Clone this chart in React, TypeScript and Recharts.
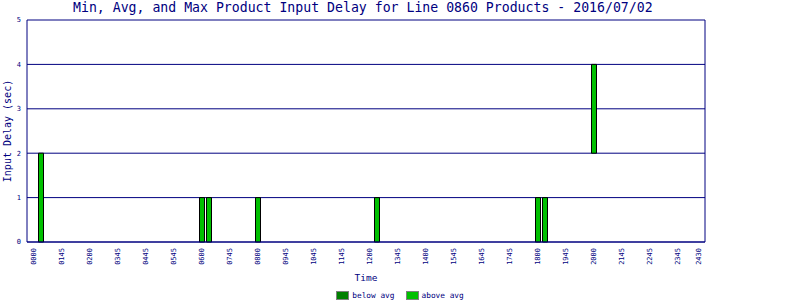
import { BarChart, Bar, XAxis, YAxis, CartesianGrid, Legend } from 'recharts';

// 96 fifteen-minute slots across the day
const slotCount = 96;

// tick labels and the slot they sit on
const tickSlots = [0, 4, 8, 12, 16, 20, 24, 28, 32, 36, 40, 44, 48, 52, 56, 60, 64, 68, 72, 76, 80, 84, 88, 92, 95];
const tickLabels = [
  '0000', '0145', '0200', '0345', '0445', '0545', '0600', '0745', '0800', '0945', '1045', '1145', '1200',
  '1345', '1400', '1545', '1645', '1745', '1800', '1945', '2000', '2145', '2245', '2345', '2430',
];

// slots with product delays (sec)
const barSlots = [1, 24, 25, 32, 49, 72, 73, 80];
const minDelay = [0, 0, 0, 0, 0, 0, 0, 2];
const avgDelay = [0, 0, 0, 0, 0, 0, 0, 2];
const maxDelay = [2, 1, 1, 1, 1, 1, 1, 4];

const yTicks = [0, 1, 2, 3, 4, 5];

const NAVY = '#000080';
const DARK_GREEN = '#008000';
const LIGHT_GREEN = '#00c000';
const FONT = '"DejaVu Sans Mono", monospace';

const labelFor = new Map(tickSlots.map((s, i) => [s, tickLabels[i]]));

const data = Array.from({ length: slotCount }, (_, slot) => {
  const i = barSlots.indexOf(slot);
  if (i < 0) return { slot, base: null, below: null, above: null };
  return {
    slot,
    base: minDelay[i],
    below: avgDelay[i] - minDelay[i],
    above: maxDelay[i] - avgDelay[i],
  };
});

const XTick = ({ x, y, payload }: any) => {
  const text = labelFor.get(payload.value);
  if (!text) return null;
  const ty = y + 6;
  return (
    <text
      x={x}
      y={ty}
      transform={`rotate(-90 ${x} ${ty})`}
      textAnchor="end"
      dominantBaseline="central"
      fontSize={7}
      fontFamily={FONT}
      fill={NAVY}
    >
      {text}
    </text>
  );
};

const legendItems = [
  { name: 'below avg', color: DARK_GREEN },
  { name: 'above avg', color: LIGHT_GREEN },
];

const LegendContent = () => (
  <div style={{ display: 'flex', justifyContent: 'center', height: 14, paddingTop: 5, boxSizing: 'border-box', paddingLeft: 11 }}>
    {legendItems.map((item) => (
      <div key={item.name} style={{ display: 'flex', alignItems: 'center', marginRight: 11 }}>
        <div style={{ width: 11, height: 7, background: item.color, border: '1px solid #808080', marginRight: 3 }} />
        <span style={{ fontFamily: FONT, fontSize: 7.8, color: NAVY, lineHeight: '9px' }}>{item.name}</span>
      </div>
    ))}
  </div>
);

export default function App() {
  return (
    <div style={{ position: 'absolute', left: 0, top: 0, width: 800, height: 300, background: '#fff' }}>
      <div
        style={{
          position: 'absolute',
          left: 73,
          top: 0,
          fontFamily: FONT,
          fontSize: 13.2,
          lineHeight: '16px',
          color: NAVY,
          whiteSpace: 'nowrap',
          zIndex: 1,
        }}
      >
        Min, Avg, and Max Product Input Delay for Line 0860 Products - 2016/07/02
      </div>
      <BarChart width={800} height={300} data={data} margin={{ top: 20, right: 94, bottom: 0, left: 0 }}>
        <CartesianGrid yAxisId="left" vertical={false} stroke={NAVY} strokeOpacity={1} />
        <XAxis
          dataKey="slot"
          type="category"
          interval={0}
          height={44}
          padding={{ left: 3.5, right: 2.5 }}
          tickLine={false}
          tickSize={0}
          tickMargin={0}
          tick={<XTick />}
          axisLine={{ stroke: NAVY }}
          label={({ viewBox }: any) => (
            <text
              x={viewBox.x + viewBox.width / 2}
              y={277}
              textAnchor="middle"
              dominantBaseline="central"
              fontSize={9.5}
              fontFamily={FONT}
              fill={NAVY}
            >
              Time
            </text>
          )}
        />
        <YAxis
          yAxisId="left"
          width={27}
          domain={[0, 5]}
          ticks={yTicks}
          tickLine={false}
          tickSize={0}
          tickMargin={6}
          axisLine={{ stroke: NAVY }}
          tick={{ fontSize: 7, fontFamily: FONT, fill: NAVY }}
          label={({ viewBox }: any) => (
            <text
              x={7.5}
              y={viewBox.y + viewBox.height / 2}
              transform={`rotate(-90 7.5 ${viewBox.y + viewBox.height / 2})`}
              textAnchor="middle"
              dominantBaseline="central"
              fontSize={10}
              fontFamily={FONT}
              fill={NAVY}
            >
              Input Delay (sec)
            </text>
          )}
        />
        <YAxis
          yAxisId="right"
          orientation="right"
          width={1}
          domain={[0, 5]}
          ticks={yTicks}
          tick={false}
          tickLine={false}
          axisLine={{ stroke: NAVY, strokeWidth: 1 }}
        />
        <Legend
          verticalAlign="bottom"
          height={14}
          wrapperStyle={{ left: 0, width: 800 }}
          content={<LegendContent />}
        />
        <Bar yAxisId="left" dataKey="base" stackId="d" fill="none" stroke="none" barSize={5} legendType="none" isAnimationActive={false} />
        <Bar yAxisId="left" dataKey="below" name="below avg" stackId="d" fill={DARK_GREEN} stroke="#000" barSize={5} isAnimationActive={false} />
        <Bar yAxisId="left" dataKey="above" name="above avg" stackId="d" fill={LIGHT_GREEN} stroke="#000" barSize={5} isAnimationActive={false} />
      </BarChart>
    </div>
  );
}
